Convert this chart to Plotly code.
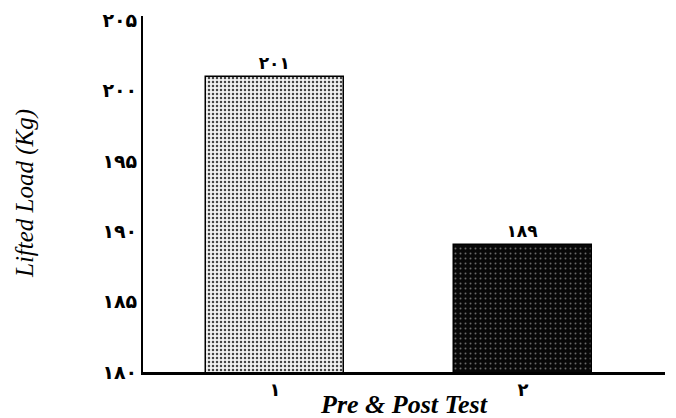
import plotly.graph_objects as go

categories = ["۱", "۲"]
values = [201, 189]
value_labels = ["۲۰۱", "۱۸۹"]
y_tickvals = [180, 185, 190, 195, 200, 205]
y_ticktext = ["۱۸۰", "۱۸۵", "۱۹۰", "۱۹۵", "۲۰۰", "۲۰۵"]
x_title = "Pre & Post Test"
y_title = "Lifted Load (Kg)"

x_pos = [0, 1]

fig = go.Figure()
fig.add_trace(go.Bar(
    x=[x_pos[0]], y=[values[0]], width=0.556,
    text=["<b>" + value_labels[0] + "</b>"], textposition="outside",
    textfont=dict(family="DejaVu Sans", size=17, color="black"),
    marker=dict(color="white", line=dict(color="black", width=1.5),
                pattern=dict(shape=".", fgcolor="#444444", bgcolor="#f2f2f2",
                             size=4, solidity=0.3, fillmode="replace")),
    cliponaxis=False, showlegend=False,
))
fig.add_trace(go.Bar(
    x=[x_pos[1]], y=[values[1]], width=0.556,
    text=["<b>" + value_labels[1] + "</b>"], textposition="outside",
    textfont=dict(family="DejaVu Sans", size=17, color="black"),
    marker=dict(color="black", line=dict(color="black", width=1.5),
                pattern=dict(shape=".", fgcolor="#6a6a6a", bgcolor="#080808",
                             size=5, solidity=0.12, fillmode="replace")),
    cliponaxis=False, showlegend=False,
))

fig.update_layout(
    width=676, height=418,
    margin=dict(l=135, r=19, t=8, b=54),
    paper_bgcolor="white", plot_bgcolor="white",
    xaxis=dict(
        range=[-0.532, 1.573],
        tickvals=x_pos, ticktext=["<b>" + c + "</b>" for c in categories],
        tickfont=dict(family="DejaVu Sans", size=18, color="black"),
        showgrid=False, zeroline=False,
        showline=True, linecolor="black", linewidth=2.5,
        ticks="", ticklen=0,
        automargin=False,
    ),
    yaxis=dict(
        range=[180, 205.3],
        tickvals=y_tickvals, ticktext=["<b>" + t + "</b>" for t in y_ticktext],
        tickfont=dict(family="DejaVu Sans", size=19, color="black"),
        ticklabeloverflow="allow",
        showgrid=False, zeroline=False,
        showline=True, linecolor="black", linewidth=2,
        ticks="", ticklen=0,
        automargin=False,
    ),
    bargap=0,
    annotations=[
        dict(text="<b><i>" + x_title + "</i></b>", xref="paper", yref="paper",
             x=0.5, y=0, xanchor="center", yanchor="middle", yshift=-32,
             showarrow=False,
             font=dict(family="Liberation Serif", size=26, color="black")),
        dict(text="<i>" + y_title + "</i>", xref="paper", yref="paper",
             x=0, y=0.5, xanchor="center", yanchor="middle", xshift=-118,
             textangle=-90, showarrow=False,
             font=dict(family="Liberation Serif", size=25, color="black")),
    ],
)

fig.write_html("out.html")
